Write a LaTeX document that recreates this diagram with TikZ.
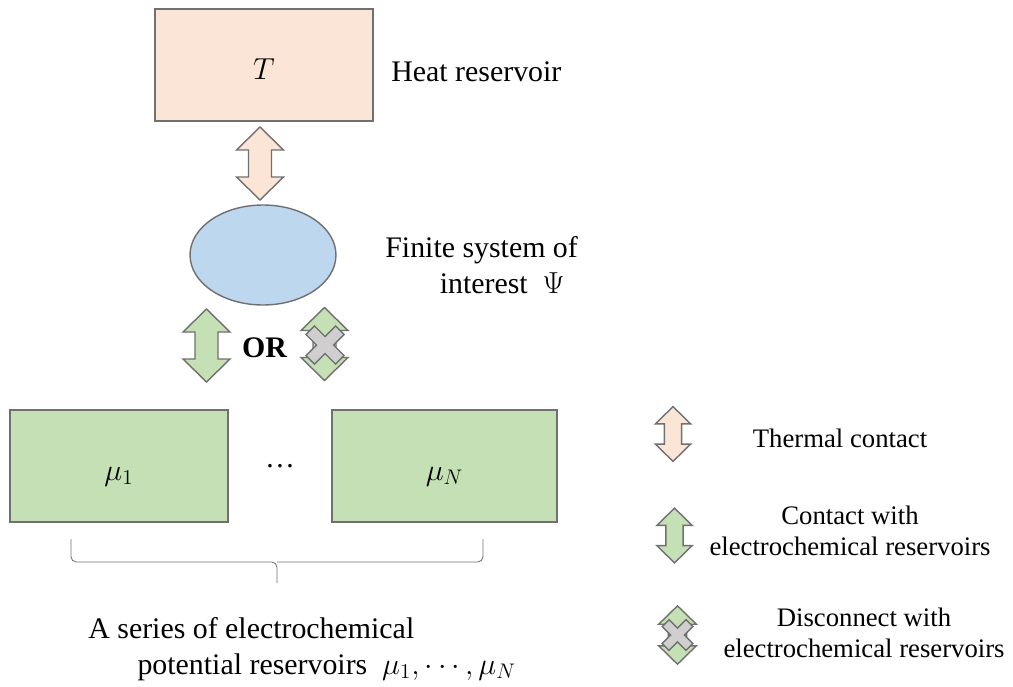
\documentclass[tikz,border=0pt]{standalone}
\usepackage{fontspec}
\setmainfont{Liberation Serif}
\usetikzlibrary{shapes.geometric}

\definecolor{heatfill}{RGB}{251,229,214}
\definecolor{sysfill}{RGB}{189,215,238}
\definecolor{chemfill}{RGB}{197,224,180}
\definecolor{crossfill}{RGB}{208,206,206}
\definecolor{edgegray}{RGB}{112,112,112}

\tikzset{
  dblarr/.pic={\draw[edge,fill=#1] (0,-36.5) -- (23.5,-13.5) -- (11.5,-13.5) -- (11.5,13.5) -- (23.5,13.5) -- (0,36.5) -- (-23.5,13.5) -- (-11.5,13.5) -- (-11.5,-13.5) -- (-23.5,-13.5) -- cycle;},
  xmark/.pic={\draw[edge,fill=crossfill] (0,-8.5) -- (10.6,-19.1) -- (19.1,-10.6) -- (8.5,0) -- (19.1,10.6) -- (10.6,19.1) -- (0,8.5) -- (-10.6,19.1) -- (-19.1,10.6) -- (-8.5,0) -- (-19.1,-10.6) -- (-10.6,-19.1) -- cycle;}
}

\begin{document}
\begin{tikzpicture}[x=0.02cm,y=-0.02cm,
  edge/.style={draw=edgegray,line width=0.8pt,line join=miter},
  box/.style={edge,inner sep=0pt,minimum height=2.24cm,text height=16pt,text depth=0pt,font=\fontsize{18}{20.5}\selectfont},
  bigtxt/.style={font=\fontsize{17}{20.5}\selectfont,inner sep=0pt},
  keytxt/.style={font=\fontsize{15.2}{18}\selectfont,inner sep=0pt,align=center}]
  \useasboundingbox (0,0) rectangle (1013,686);

  % reservoirs and the system
  \node[box,fill=heatfill,minimum width=4.36cm] (res) at (264,65) {$T$};
  \node[edge,ellipse,fill=sysfill,inner sep=0pt,minimum width=2.92cm,minimum height=2cm] (sys) at (263,255) {};
  \node[box,fill=chemfill,minimum width=4.36cm] (mu1) at (119,466) {$\mu_1$};
  \node[box,fill=chemfill,minimum width=4.5cm] (muN) at (444.5,466) {$\mu_N$};
  \node[bigtxt] (dots) at (280,466) {\dots};

  % contacts
  \pic at (260,163.5) {dblarr=heatfill};
  \pic at (206.5,345.5) {dblarr=chemfill};
  \node[bigtxt,font=\fontsize{17}{20.5}\selectfont\bfseries] (or) at (264.5,348) {OR};
  \pic at (324.5,344) {dblarr=chemfill};
  \pic at (325,345) {xmark};

  % brace under the reservoirs
  \draw[edgegray,line width=0.5pt,rounded corners=3pt] (71,539) |- (277,562) -- (277,583);
  \draw[edgegray,line width=0.5pt,rounded corners=3pt] (483,539) |- (277,562);

  % labels
  \node[bigtxt,anchor=base west] (heatlbl) at (391,82) {Heat reservoir};
  \node[bigtxt,align=left,anchor=north west] (syslbl) at (385,236) {Finite system of\\\hspace{31pt}interest\ \ $\Psi$};
  \node[bigtxt,align=left,anchor=north west] (series) at (88,617) {A series of electrochemical\\\hspace{28pt}potential reservoirs\ \ $\mu_1,\cdots,\mu_N$};

  % legend
  \pic[scale=0.75] at (673,434) {dblarr=heatfill};
  \pic[scale=0.75] at (674.5,535.5) {dblarr=chemfill};
  \pic[scale=0.8] at (677.5,635) {dblarr=chemfill};
  \pic[scale=0.8] at (677.5,635) {xmark};
  \node[keytxt] (thermlbl) at (840,438) {Thermal contact};
  \node[keytxt] (contlbl) at (850,531) {Contact with\\electrochemical reservoirs};
  \node[keytxt] (disclbl) at (864,633) {Disconnect with\\electrochemical reservoirs};
\end{tikzpicture}
\end{document}
